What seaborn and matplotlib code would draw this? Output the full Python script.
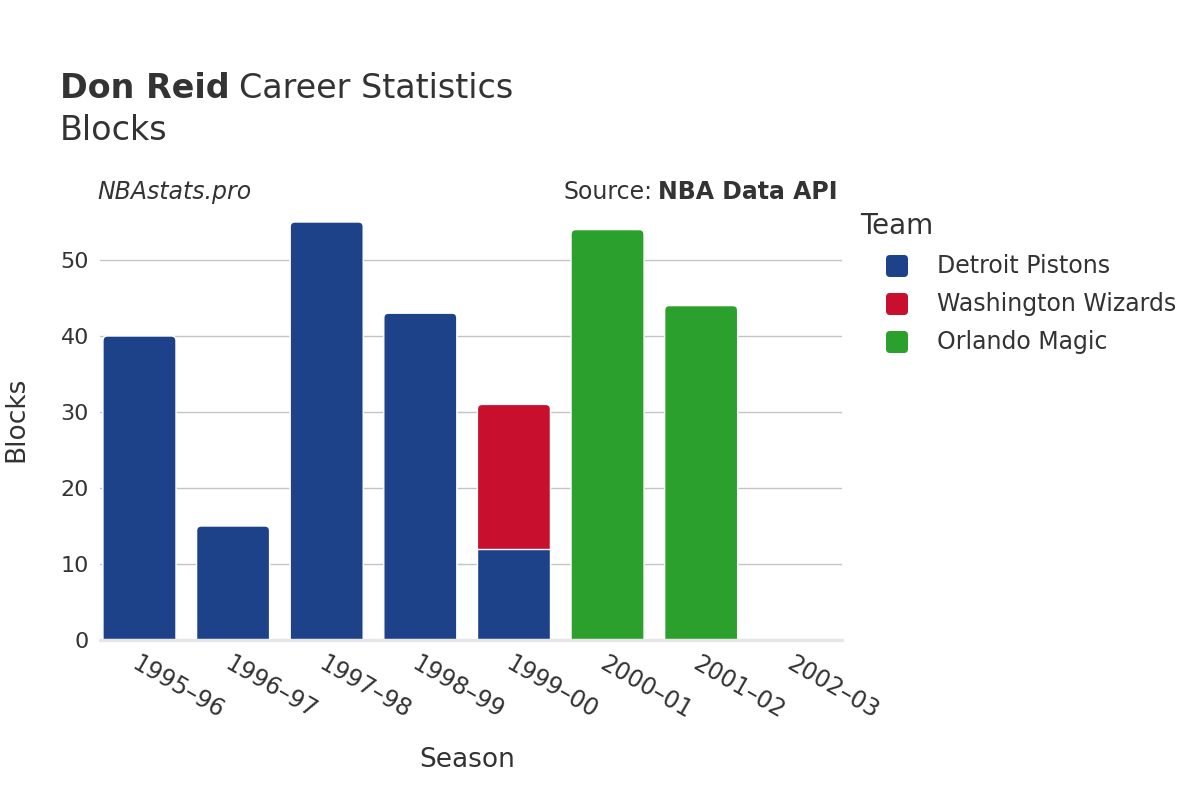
import pandas as pd
import numpy as np
import matplotlib
matplotlib.use("Agg")
import matplotlib.pyplot as plt
from matplotlib.patches import FancyBboxPatch
import seaborn as sns

# chart data
seasons = ["1995–96", "1996–97", "1997–98", "1998–99", "1999–00", "2000–01", "2001–02", "2002–03"]
detroit = [40, 15, 55, 43, 12, 0, 0, 0]
washington = [0, 0, 0, 0, 19, 0, 0, 0]
orlando = [0, 0, 0, 0, 0, 54, 44, 0]
teams = ["Detroit Pistons", "Washington Wizards", "Orlando Magic"]
team_colors = ["#1d428a", "#c8102e", "#2ca02c"]

df = pd.DataFrame({"Season": seasons, "DET": detroit, "WAS": washington, "ORL": orlando})
df["DET_WAS"] = df["DET"] + df["WAS"]
totals = (df["DET"] + df["WAS"] + df["ORL"]).tolist()

sns.set_theme(style="white")
plt.rcParams["font.family"] = ["DejaVu Sans"]
text_col = "#333333"

fig, ax = plt.subplots(figsize=(12, 8), dpi=100)
fig.subplots_adjust(left=0.0833, right=0.7017, bottom=0.2, top=0.751)

# stacked bars drawn as overlays: cumulative totals first
for col, c in [("DET_WAS", team_colors[1]), ("DET", team_colors[0]), ("ORL", team_colors[2])]:
    sns.barplot(data=df, x="Season", y=col, order=seasons, color=c, saturation=1,
                width=0.78, edgecolor="white", linewidth=1, ax=ax, zorder=3)

xlim = (-0.422, 7.505)
ylim = (0, 58)
ax.set_xlim(*xlim)
ax.set_ylim(*ylim)

# round the top corners of each visible stack (bottom part is clipped below 0),
# inner segments stay square and sit on top
ax_w = fig.get_figwidth() * fig.dpi * (0.7017 - 0.0833)
ax_h = fig.get_figheight() * fig.dpi * (0.751 - 0.2)
aspect = (ax_w / (xlim[1] - xlim[0])) / (ax_h / (ylim[1] - ylim[0]))
for p in list(ax.patches):
    x, y = p.get_x(), p.get_y()
    w, h = p.get_width(), p.get_height()
    if h <= 0:
        p.remove()
        continue
    idx = int(round(x + w / 2))
    if abs(h - totals[idx]) > 1e-6:
        p.set_zorder(4)
        continue
    fc = p.get_facecolor()
    p.remove()
    ax.add_patch(FancyBboxPatch((x, y - 2), w, h + 2, boxstyle="round,pad=0,rounding_size=0.05",
                                mutation_aspect=aspect, facecolor=fc, edgecolor="white",
                                linewidth=1, zorder=3))

ax.set_yticks([0, 10, 20, 30, 40, 50])
ax.yaxis.grid(True, color="#c4c4c4", linewidth=1)
ax.xaxis.grid(False)
ax.set_axisbelow(True)
sns.despine(ax=ax, left=True, bottom=True)
ax.axhline(0, color="#e6e6e6", linewidth=2.5, zorder=5, clip_on=False)

ax.tick_params(axis="both", length=0, labelsize=16, labelcolor=text_col)
ax.tick_params(axis="x", labelsize=17, pad=8)
ax.tick_params(axis="y", pad=8)
for lab in ax.get_xticklabels():
    lab.set_rotation(-30)
    lab.set_ha("left")
    lab.set_va("top")
    lab.set_rotation_mode("anchor")

ax.set_xlabel("Season", fontsize=19, color=text_col, va="center")
ax.set_ylabel("Blocks", fontsize=19, color=text_col, va="center")
ax.xaxis.set_label_coords(0.495, -0.273)
ax.yaxis.set_label_coords(-0.112, 0.5)

# titles
renderer = fig.canvas.get_renderer()
W, H = 1200, 800
t1 = fig.text(60 / W, 1 - 88 / H, "Don Reid", fontsize=24, fontweight="bold", color=text_col, va="center")
bb = t1.get_window_extent(renderer)
fig.text((bb.x1 + 9) / W, 1 - 88 / H, "Career Statistics", fontsize=24, color=text_col, va="center")
fig.text(60 / W, 1 - 131 / H, "Blocks", fontsize=24, color=text_col, va="center")
fig.text(97 / W, 1 - 192 / H, "NBAstats.pro", fontsize=17, style="italic", color=text_col, va="center")
t2 = fig.text(838 / W, 1 - 192 / H, "NBA Data API", fontsize=17, fontweight="bold", color=text_col,
              va="center", ha="right")
bb = t2.get_window_extent(renderer)
fig.text((bb.x0 - 6) / W, 1 - 192 / H, "Source:", fontsize=17, color=text_col, va="center", ha="right")

# legend, drawn by hand so the swatches can have rounded corners
fig.text(860 / W, 1 - 226 / H, "Team", fontsize=20, color=text_col, va="center")
for i, (team, c) in enumerate(zip(teams, team_colors)):
    yc = 266 + 38 * i
    fig.patches.append(FancyBboxPatch((8.86, (H - yc - 11) / 100), 0.22, 0.22,
                                      boxstyle="round,pad=0,rounding_size=0.04",
                                      transform=fig.dpi_scale_trans, facecolor=c,
                                      edgecolor="none", figure=fig))
    fig.text(937 / W, 1 - yc / H, team, fontsize=17, color=text_col, va="center")

plt.savefig("out.png", dpi=100)
